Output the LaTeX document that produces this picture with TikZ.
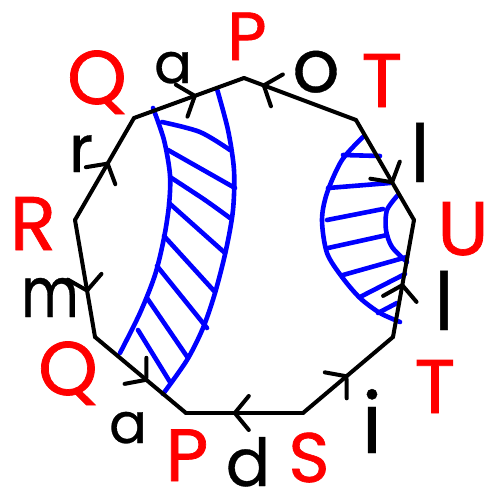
\documentclass[tikz,border=0pt]{standalone}
\usepackage{fontspec}
\setmainfont{Poppins}
\newfontfamily\redfont[FakeBold=0.9]{Poppins}
\newfontfamily\blackfont[FakeBold=0.5]{Poppins}
\usetikzlibrary{arrows.meta,decorations.markings}
\begin{document}
\begin{tikzpicture}[x=1pt,y=-1pt,
  edge/.style={line width=4pt, line cap=round, line join=round},
  midarrow/.style={postaction={decorate,decoration={markings,
      mark=at position #1 with {\arrow[line width=4pt]{Straight Barb[length=14pt,width=34pt,round]}}}}},
  vlab/.style={text=red, inner sep=0pt, anchor=base, text depth=0pt, font=\redfont\fontsize{#1}{#1}\selectfont},
  vlab/.default=76,
  elab/.style={text=black, inner sep=0pt, anchor=base, text depth=0pt, font=\blackfont\fontsize{#1}{#1}\selectfont},
  hatch/.style={draw=blue, line width=4.6pt, line cap=round, line join=round}
]
\useasboundingbox (0,0) rectangle (488,496);
% vertices
\coordinate (vP1) at (244,78);
\coordinate (vT1) at (356,120);
\coordinate (vU)  at (414,220);
\coordinate (vT2) at (393,337);
\coordinate (vS)  at (303,413);
\coordinate (vP2) at (186,413);
\coordinate (vQ2) at (95,337);
\coordinate (vR)  at (75,220);
\coordinate (vQ1) at (134,118);
% blue left band
\draw[hatch] plot[smooth] coordinates {(153,108) (164,140) (170,175) (169,205) (164,238) (155,275) (140,313) (120,353)};
\draw[hatch] plot[smooth] coordinates {(217,89) (228,130) (234,170) (233,210) (226,250) (215,293) (203,328) (187,360) (163,394)};
\draw[hatch] plot[smooth] coordinates {(162,122) (200,132) (230,150)};
\draw[hatch] (168,150) -- (235,188);
\draw[hatch] plot[smooth] coordinates {(170,177) (205,200) (230,218)};
\draw[hatch] (169,203) -- (225,253);
\draw[hatch] (164,236) -- (215,292);
\draw[hatch] (157,266) -- (207,328);
\draw[hatch] (147,298) -- (188,358);
\draw[hatch] (138,330) -- (170,382);
% blue right region
\draw[hatch] plot[smooth] coordinates {(363,137) (342,160) (327,193) (322,220) (327,253) (342,277) (360,298) (380,313) (400,322)};
\draw[hatch] plot[smooth] coordinates {(398,195) (387,210) (386,230) (392,247) (407,262)};
\draw[hatch] (343,155) -- (380,156);
\draw[hatch] (328,188) -- (390,183);
\draw[hatch] (327,220) -- (383,209);
\draw[hatch] (328,248) -- (387,235);
\draw[hatch] (343,275) -- (407,257);
\draw[hatch] (360,297) -- (405,274);
\draw[hatch] (378,313) -- (397,303);
% edges
\draw[edge, midarrow=0.57] (vQ1) -- (vP1);
\draw[edge, midarrow=0.84] (vT1) -- (vP1);
\draw[edge, midarrow=0.64] (vT1) -- (vU);
\draw[edge, midarrow=0.46] (vT2) -- (vU);
\draw[edge, midarrow=0.5]  (vS) -- (vT2);
\draw[edge, midarrow=0.6]  (vS) -- (vP2);
\draw[edge, midarrow=0.58] (vQ2) -- (vP2);
\draw[edge, midarrow=0.62] (vR) -- (vQ2);
\draw[edge, midarrow=0.57] (vR) -- (vQ1);
% vertex labels
\node[vlab=68] (lP1) at (247,60) {P};
\node[vlab] (lT1) at (382,107) {T};
\node[vlab] (lU)  at (463,255) {U};
\node[vlab] (lT2) at (435,413) {T};
\node[vlab=70] (lS)  at (309,482) {S};
\node[vlab=74] (lP2) at (187,481) {P};
\node[vlab] (lQ2) at (68,395) {Q};
\node[vlab] (lR)  at (33,250) {R};
\node[vlab] (lQ1) at (97,104) {Q};
% edge labels
\node[elab=56] (ea1) at (173,83) {a};
\node[elab=74] (eo)  at (316,92) {o};
\node[elab=80] (el1) at (420,182) {l};
\node[elab=80] (el2) at (444,330) {l};
\node[elab=84] (ei)  at (372,453) {i};
\node[elab=66] (ed)  at (248,486) {d};
\node[elab=56] (ea2) at (128,443) {a};
\node[elab=70] (em)  at (50,317) {\scalebox{0.8}[1]{m}};
\node[elab=66] (er)  at (81,172) {r};
\end{tikzpicture}
\end{document}
